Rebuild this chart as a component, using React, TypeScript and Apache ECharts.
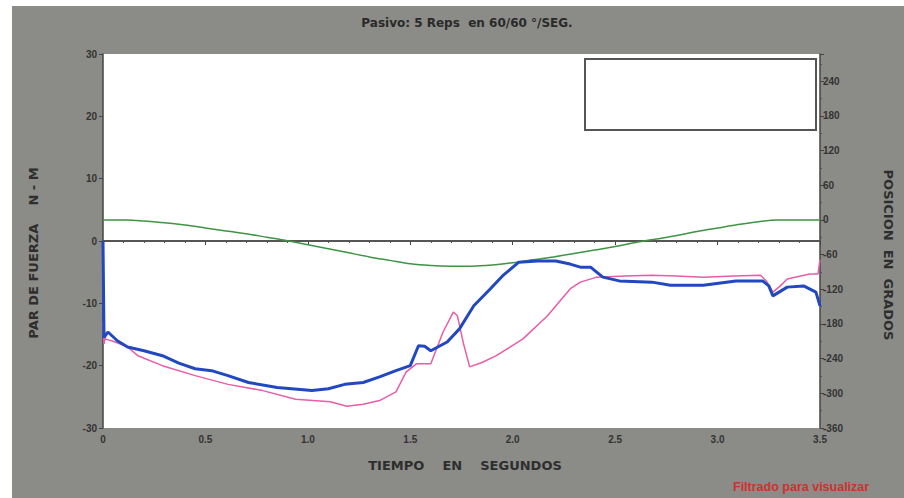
import React, { useEffect, useRef } from "react";
import * as echarts from "echarts";

const titleText = "Pasivo: 5 Reps  en 60/60 °/SEG.";
const xAxisName = "TIEMPO    EN    SEGUNDOS";
const leftAxisName = "PAR DE FUERZA    N - M";
const rightAxisName = "POSICION  EN  GRADOS";
const footnote = "Filtrado para visualizar";

// Torque (N-M), thick blue trace
const blueTime = [0, 0.005, 0.024, 0.07, 0.12, 0.2, 0.29, 0.37, 0.45, 0.53, 0.61, 0.71, 0.85, 1.02, 1.1, 1.18, 1.27, 1.35, 1.43, 1.5, 1.54, 1.57, 1.6, 1.68, 1.74, 1.81, 1.89, 1.95, 2.03, 2.12, 2.21, 2.28, 2.33, 2.38, 2.44, 2.52, 2.68, 2.77, 2.93, 3.09, 3.22, 3.25, 3.27, 3.3, 3.34, 3.42, 3.48, 3.5];
const blueTorque = [0, -15.5, -14.6, -16.0, -17.0, -17.6, -18.4, -19.6, -20.5, -20.8, -21.6, -22.7, -23.5, -24.0, -23.7, -23.0, -22.7, -21.8, -20.8, -20.0, -16.8, -16.9, -17.6, -16.2, -14.1, -10.4, -7.7, -5.6, -3.4, -3.2, -3.2, -3.7, -4.2, -4.2, -5.8, -6.4, -6.6, -7.1, -7.1, -6.4, -6.4, -7.2, -8.8, -8.2, -7.4, -7.2, -8.2, -10.4];

// Torque (N-M), thin pink trace
const pinkTime = [0, 0.005, 0.01, 0.06, 0.12, 0.17, 0.29, 0.45, 0.61, 0.78, 0.94, 1.11, 1.19, 1.27, 1.35, 1.43, 1.48, 1.53, 1.6, 1.66, 1.71, 1.73, 1.76, 1.79, 1.85, 1.92, 2.05, 2.17, 2.28, 2.33, 2.41, 2.55, 2.68, 2.8, 2.93, 3.08, 3.21, 3.24, 3.27, 3.3, 3.34, 3.45, 3.49, 3.5];
const pinkTorque = [-13, -16.5, -15.7, -16.2, -17.0, -18.4, -20.0, -21.6, -23.0, -24.0, -25.4, -25.8, -26.5, -26.2, -25.6, -24.2, -21.0, -19.7, -19.7, -14.6, -11.4, -12.0, -16.5, -20.2, -19.5, -18.4, -15.7, -12.0, -7.7, -6.6, -5.8, -5.6, -5.5, -5.6, -5.8, -5.6, -5.5, -6.5, -8.2, -7.4, -6.1, -5.3, -5.3, -3.0];

// Position (degrees), green trace
const greenTime = [0, 0.12, 0.2, 0.3, 0.4, 0.5, 0.6, 0.7, 0.8, 0.9, 1.0, 1.1, 1.2, 1.3, 1.4, 1.5, 1.6, 1.7, 1.8, 1.9, 2.0, 2.1, 2.2, 2.3, 2.4, 2.5, 2.6, 2.7, 2.8, 2.9, 3.0, 3.1, 3.2, 3.29, 3.5];
const greenPosition = [0, 0, -2, -5, -9, -14, -19, -24, -30, -36, -43, -50, -57, -64, -70, -76, -79, -80, -80, -78, -74, -69, -64, -58, -52, -46, -39, -33, -27, -20, -14, -8, -3, 0, 0];

const zeroTime = [0, 3.5];
const zeroTorque = [0, 0];

const zip = (a: number[], b: number[]) => a.map((t, i) => [t, b[i]]);

export default function App() {
  const ref = useRef<HTMLDivElement>(null);
  useEffect(() => {
    const chart = echarts.init(ref.current!, null, { renderer: "svg" });
    const font = "DejaVu Sans";
    const labelStyle = { fontFamily: "Liberation Sans", fontSize: 10, fontWeight: "bold" as const, color: "#333" };
    const axisLine = { show: true, lineStyle: { color: "#444", width: 1.5 } };
    chart.setOption({
      animation: false,
      backgroundColor: "transparent",
      grid: { left: 103, right: 84, top: 54, bottom: 70, show: true, backgroundColor: "#ffffff", borderWidth: 0 },
      xAxis: {
        type: "value",
        min: 0,
        max: 3.5,
        interval: 0.5,
        axisLine,
        axisTick: { show: true, length: 4, lineStyle: { color: "#444" } },
        minorTick: { show: true, splitNumber: 5, length: 2, lineStyle: { color: "#555" } },
        splitLine: { show: false },
        axisLabel: { ...labelStyle, margin: 6, formatter: (v: number) => (v === 0 ? "0" : v.toFixed(1)) },
      },
      yAxis: [
        {
          type: "value",
          min: -30,
          max: 30,
          interval: 10,
          position: "left",
          axisLine,
          axisTick: { show: true, length: 4, lineStyle: { color: "#444" } },
          splitLine: { show: false },
          axisLabel: { ...labelStyle, margin: 6 },
        },
        {
          type: "value",
          min: -360,
          max: 287,
          interval: 60,
          position: "right",
          axisLine,
          axisTick: { show: true, length: 4, lineStyle: { color: "#444" } },
          minorTick: { show: true, splitNumber: 2, length: 2, lineStyle: { color: "#555" } },
          splitLine: { show: false },
          axisLabel: {
            ...labelStyle,
            margin: 3,
            showMaxLabel: false,
            formatter: (v: number) => (v % 60 === 0 ? String(v) : ""),
          },
        },
      ],
      graphic: [
        {
          type: "rect",
          shape: { x: 585, y: 59, width: 231, height: 71 },
          style: { fill: "#ffffff", stroke: "#555", lineWidth: 2 },
          z: 10,
        },
        {
          type: "text",
          x: 467,
          y: 23,
          style: { text: titleText, fontFamily: font, fontSize: 12, fontWeight: "bold", fill: "#2a2a2a", textAlign: "center", textVerticalAlign: "middle" },
        },
        {
          type: "text",
          x: 465,
          y: 465,
          style: { text: xAxisName, fontFamily: font, fontSize: 13, fontWeight: "bold", fill: "#2e2e2e", textAlign: "center", textVerticalAlign: "middle" },
        },
        {
          type: "text",
          x: 33,
          y: 253,
          rotation: Math.PI / 2,
          style: { text: leftAxisName, fontFamily: font, fontSize: 13, fontWeight: "bold", fill: "#2e2e2e", textAlign: "center", textVerticalAlign: "middle" },
        },
        {
          type: "text",
          x: 888,
          y: 255,
          rotation: -Math.PI / 2,
          style: { text: rightAxisName, fontFamily: font, fontSize: 13, fontWeight: "bold", fill: "#2e2e2e", textAlign: "center", textVerticalAlign: "middle" },
        },
        {
          type: "text",
          x: 733,
          y: 487,
          style: { text: footnote, fontFamily: "Liberation Sans", fontSize: 12.5, fontWeight: "bold", fill: "#d0302e", textAlign: "left", textVerticalAlign: "middle" },
        },
      ],
      series: [
        {
          type: "line",
          data: zip(zeroTime, zeroTorque),
          yAxisIndex: 0,
          symbol: "none",
          lineStyle: { color: "#555", width: 2 },
          z: 1,
        },
        {
          type: "line",
          data: zip(greenTime, greenPosition),
          yAxisIndex: 1,
          symbol: "none",
          smooth: 0.3,
          lineStyle: { color: "#3f9444", width: 1.5 },
          z: 2,
        },
        {
          type: "line",
          data: zip(pinkTime, pinkTorque),
          yAxisIndex: 0,
          symbol: "none",
          lineStyle: { color: "#e85ca8", width: 1.5 },
          z: 3,
        },
        {
          type: "line",
          data: zip(blueTime, blueTorque),
          yAxisIndex: 0,
          symbol: "none",
          lineStyle: { color: "#2148c0", width: 3 },
          z: 4,
        },
      ],
    });
    return () => chart.dispose();
  }, []);
  return (
    <div
      style={{
        position: "absolute",
        left: 0,
        top: 0,
        width: 904,
        height: 498,
        background: "linear-gradient(#8b8b87, #8b8b87) 12px 6px / 892px 492px no-repeat, #ffffff",
      }}
    >
      <div ref={ref} style={{ width: 904, height: 498 }} />
    </div>
  );
}
